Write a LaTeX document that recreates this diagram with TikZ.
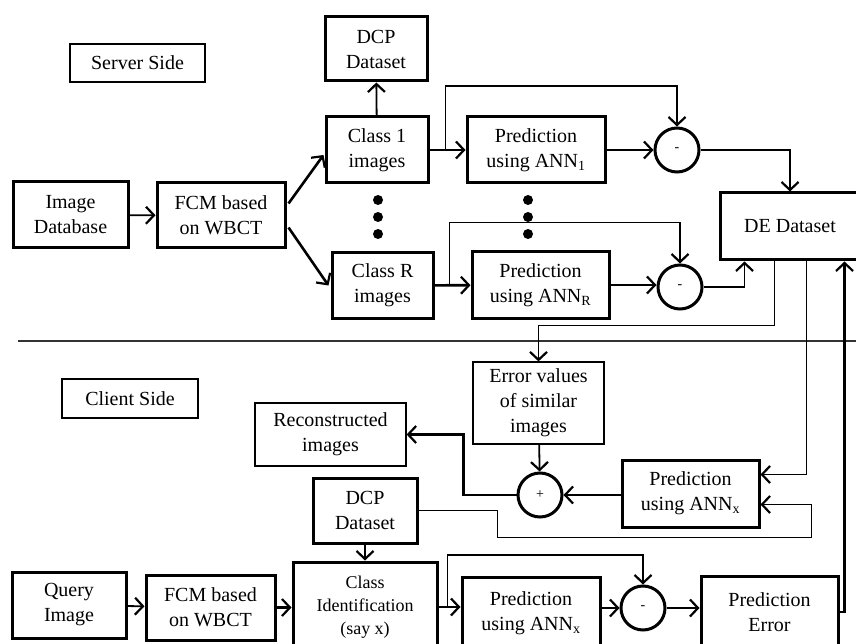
\documentclass[tikz,border=0pt]{standalone}
\usepackage{fontspec}
\setmainfont{Liberation Serif}
\usetikzlibrary{arrows.meta}
\usetikzlibrary{calc}

\tikzset{
  blk/.style={draw, line width=3pt, align=center, inner sep=0pt, font=\fontsize{20}{25}\selectfont},
  lbl/.style={draw, line width=1.2pt, align=center, inner sep=0pt, font=\fontsize{20}{25}\selectfont},
  summer/.style={draw, circle, line width=3pt, minimum size=44pt, inner sep=0pt, font=\fontsize{14}{14}\selectfont},
  tip/.style={-{Straight Barb[length=8pt,width=17pt,line width=2.2pt]}},
  conn/.style={tip, line width=1.8pt},
  thinconn/.style={tip, line width=1.1pt},
  thickconn/.style={tip, line width=2.6pt},
}

\begin{document}
\begin{tikzpicture}[x=1pt,y=1pt,yscale=-1,xscale=1]
\useasboundingbox (0,0) rectangle (856,644);
\clip (0,0) rectangle (856,644);

%Shape: Rectangle -- server side
\node[lbl, minimum width=135, minimum height=38] (srv) at (137.5,63) {Server Side};
\node[blk, minimum width=102, minimum height=64] (dcp1) at (376,49) {DCP\\Dataset};
\node[blk, minimum width=102, minimum height=66] (cls1) at (377,150) {Class 1\\images};
\node[blk, minimum width=115, minimum height=66] (imgdb) at (70.5,215) {Image\\Database};
\node[blk, minimum width=128, minimum height=65] (fcm1) at (221,215.5) {FCM based\\on WBCT};
\node[blk, minimum width=101, minimum height=65] (clsR) at (382.5,285.5) {Class R\\images};
\node[blk, minimum width=138, minimum height=66] (pred1) at (536,150) {Prediction\\using ANN\textsubscript{1}};
\node[blk, minimum width=137, minimum height=66] (predR) at (540.5,285) {Prediction\\using ANN\textsubscript{R}};
\node[summer] (min1) at (677,150) {-};
\node[summer] (minR) at (680,287) {-};
\node[blk, minimum width=140, minimum height=67] (de) at (790,226.5) {DE Dataset};

%Shape: Dots
\foreach \y in {200,217,234} {
  \fill (378,\y) circle[radius=5pt];
  \fill (528,\y) circle[radius=5pt];
}

%Straight Lines -- separator
\draw[line width=1.2pt, black!80] (18,341) -- (856,341);

%Shape: Rectangle -- client side
\node[lbl, minimum width=136, minimum height=39] (cli) at (130,398.5) {Client Side};
\node[lbl, minimum width=131, minimum height=82] (errv) at (538.5,403) {Error values\\of similar\\images};
\node[lbl, minimum width=151, minimum height=63] (recon) at (330.5,434.5) {Reconstructed\\images};
\node[summer] (plus) at (540,495) {+};
\node[blk, minimum width=137, minimum height=67] (predx) at (690.5,493.5) {Prediction\\using ANN\textsubscript{x}};
\node[blk, minimum width=104, minimum height=65] (dcp2) at (365,510.5) {DCP\\Dataset};
\node[blk, minimum width=114, minimum height=66] (qimg) at (69,605) {Query\\Image};
\node[blk, minimum width=129, minimum height=65] (fcm2) at (210.5,607.5) {FCM based\\on WBCT};
\node[blk, minimum width=144, minimum height=90, font=\fontsize{18}{23}\selectfont] (clsid) at (365,607) {Class\\Identification\\(say x)};
\node[blk, minimum width=138, minimum height=72] (predb) at (531,613) {Prediction\\using ANN\textsubscript{x}};
\node[summer] (minb) at (643,608) {-};
\node[blk, minimum width=137, minimum height=71] (perr) at (769.5,612) {Prediction\\Error};

%Straight Lines -- server side
\draw[conn] (imgdb) -- (fcm1);
\draw[thickconn] ($(fcm1.east)+(2,-12)$) -- ($(cls1.west)+(-1,5)$);
\draw[thickconn] ($(fcm1.east)+(2,12)$) -- ($(clsR.west)+(-2,0)$);
\draw[conn] (cls1) -- (dcp1);
\draw[conn] (cls1) -- (pred1);
\draw[thinconn] ($(cls1.east)+(16,0)$) -- ++(0,-64) -| (min1.north);
\draw[thinconn] (pred1) -- (min1);
\draw[thinconn] (min1) -| (de);
\draw[thickconn] (clsR) -- (predR);
\draw[thinconn] ($(clsR.east)+(15,0)$) -- ++(0,-63) -| (minR.north);
\draw[thinconn] (predR.east) -- (predR.east -| minR.west);
\draw[thinconn] (minR.east) -| ($(de.south west)+(26,0)$);

%Straight Lines -- server to client
\draw[thinconn] ($(de.south west)+(56,0)$) |- ($(errv.north)+(0,-36)$) -- (errv.north);
\draw[thinconn] ($(de.south west)+(88,0)$) |- ($(predx.east)+(0,-19)$);
\draw[thickconn] (perr.east) -| ($(de.south west)+(126,0)$);

%Straight Lines -- client side
\draw[conn] (errv) -- (plus);
\draw[conn] (predx.west |- plus.east) -- (plus.east);
\draw[thickconn] (plus.west) -| ($(recon.east)+(57,0)$) -- (recon.east);
\draw[thinconn] (dcp2.east) -| ($(dcp2.east)+(79,27)$) -| ($(predx.east)+(51,11)$) -- ($(predx.east)+(0,11)$);
\draw[conn] (dcp2) -- (clsid);
\draw[conn] (qimg) -- (fcm2);
\draw[thickconn] (fcm2.east) -- (fcm2.east -| clsid.west);
\draw[conn] (clsid.east) -- (clsid.east -| predb.west);
\draw[thinconn] ($(clsid.east)+(9,0)$) -- ++(0,-52) -| (minb.north);
\draw[conn] (predb.east |- minb.west) -- (minb.west);
\draw[conn] (minb.east) -- (minb.east -| perr.west);
\end{tikzpicture}
\end{document}
